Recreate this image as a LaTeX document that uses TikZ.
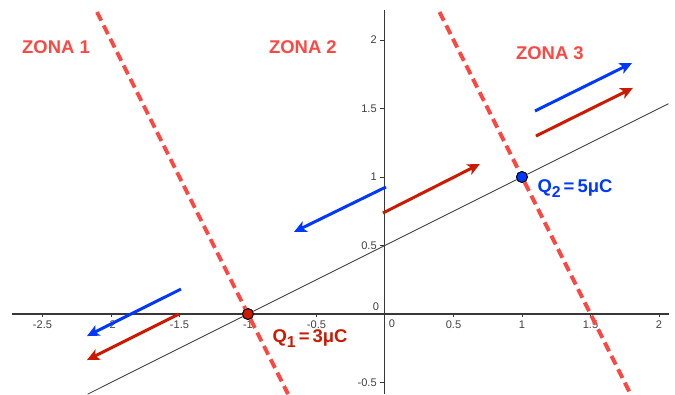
\documentclass[tikz,border=0pt]{standalone}
\usepackage{fontspec}
\setmainfont{Liberation Sans}
\usepackage{tikz}
\usetikzlibrary{arrows.meta,positioning}
\definecolor{zonered}{rgb}{1.0,0.28,0.26}
\definecolor{qred}{rgb}{0.80,0.10,0.0}
\definecolor{qblue}{rgb}{0.0,0.22,1.0}
\definecolor{axisgray}{rgb}{0.22,0.22,0.22}
\tikzset{
  axisline/.style={draw=axisgray, line width=0.6pt},
  ticklbl/.style ={font=\fontsize{6.3}{7}\selectfont, text=black!75, inner sep=0pt},
  zone/.style    ={text=zonered, font=\fontsize{10.5}{12}\selectfont\bfseries},
  border/.style  ={draw=zonered, line width=2.2pt, dash pattern=on 5.5pt off 3pt},
  charge/.style  ={circle, draw=black, line width=0.5pt, minimum size=6.2pt, inner sep=0pt},
  qlabel/.style  ={font=\fontsize{10.5}{12}\selectfont\bfseries, inner sep=0.5pt},
  vecR/.style    ={-{Stealth[length=7pt,width=6.5pt,inset=1.8pt]}, line width=1.7pt, draw=qred},
  vecB/.style    ={-{Stealth[length=7pt,width=6.5pt,inset=1.8pt]}, line width=1.7pt, draw=qblue},
}
\newcommand{\qsub}[1]{\raisebox{-0.45ex}{\fontsize{9}{9}\selectfont #1}}

\begin{document}
\begin{tikzpicture}[x=2.74cm, y=2.74cm]
  \useasboundingbox (-2.810,-0.584) rectangle (2.117,2.292);
  % ejes
  \draw[axisline] (-2.72,0) -- (2.07,0);
  \draw[axisline] (0,-0.584) -- (0,2.22);
  \foreach \x/\lbl in {-2.5/-2.5, -2/-2, -1.5/-1.5, -1/-1, -0.5/-0.5, 0.5/0.5, 1/1, 1.5/1.5, 2/2} {
    \draw[axisgray, line width=0.5pt] (\x,0) -- (\x,-0.025);
    \node[ticklbl, anchor=north] at (\x,-0.044) {\lbl};
  }
  \foreach \y/\lbl in {-0.5/-0.5, 0.5/0.5, 1/1, 1.5/1.5, 2/2} {
    \draw[axisgray, line width=0.5pt] (0,\y) -- (-0.035,\y);
    \node[ticklbl, anchor=east] at (-0.058,\y) {\lbl};
  }
  \node[ticklbl] (xcero) at (0.051,-0.069) {0};
  \node[ticklbl] (ycero) at (-0.066,0.051) {0};

  % cargas
  \node[charge, fill=qred]  (q1) at (-1,0) {};
  \node[charge, fill=qblue] (q2) at (1,1)  {};
  \coordinate (rectaI) at (-2.17,-0.585);
  \coordinate (rectaF) at (2.07,1.535);
  \draw[black!75, line width=0.5pt] (rectaI) -- (q1) -- (q2) -- (rectaF);

  % fronteras entre zonas
  \draw[border] (-2.102,2.204) -- (q1) -- (-0.708,-0.584);
  \draw[border] (0.398,2.204) -- (q2) -- (1.792,-0.584);
  \node[charge, fill=qred]  at (q1) {};
  \node[charge, fill=qblue] at (q2) {};

  % vectores
  \coordinate (b3a) at (1.095,1.482);  \coordinate (b3b) at (1.803,1.832);
  \coordinate (r3a) at (1.102,1.299);  \coordinate (r3b) at (1.810,1.650);
  \coordinate (r2a) at (-0.015,0.737); \coordinate (r2b) at (0.693,1.095);
  \coordinate (b2a) at (0.007,0.927);  \coordinate (b2b) at (-0.664,0.599);
  \coordinate (b1a) at (-1.489,0.182); \coordinate (b1b) at (-2.175,-0.161);
  \coordinate (r1a) at (-1.504,0.0);   \coordinate (r1b) at (-2.175,-0.336);
  \draw[vecB] (b3a) -- (b3b);
  \draw[vecR] (r3a) -- (r3b);
  \draw[vecR] (r2a) -- (r2b);
  \draw[vecB] (b2a) -- (b2b);
  \draw[vecB] (b1a) -- (b1b);
  \draw[vecR] (r1a) -- (r1b);

  % textos
  \node[zone] (zona1) at (-2.401,1.949) {ZONA 1};
  \node[zone] (zona2) at (-0.599,1.949) {ZONA 2};
  \node[zone] (zona3) at (1.204,1.905)  {ZONA 3};
  \node[qlabel, text=qred]  (lq1) at (-0.547,-0.18) {Q\qsub{1}\,=\,3μC};
  \node[qlabel, text=qblue] (lq2) at (1.387,0.915)  {Q\qsub{2}\,=\,5μC};
\end{tikzpicture}
\end{document}
